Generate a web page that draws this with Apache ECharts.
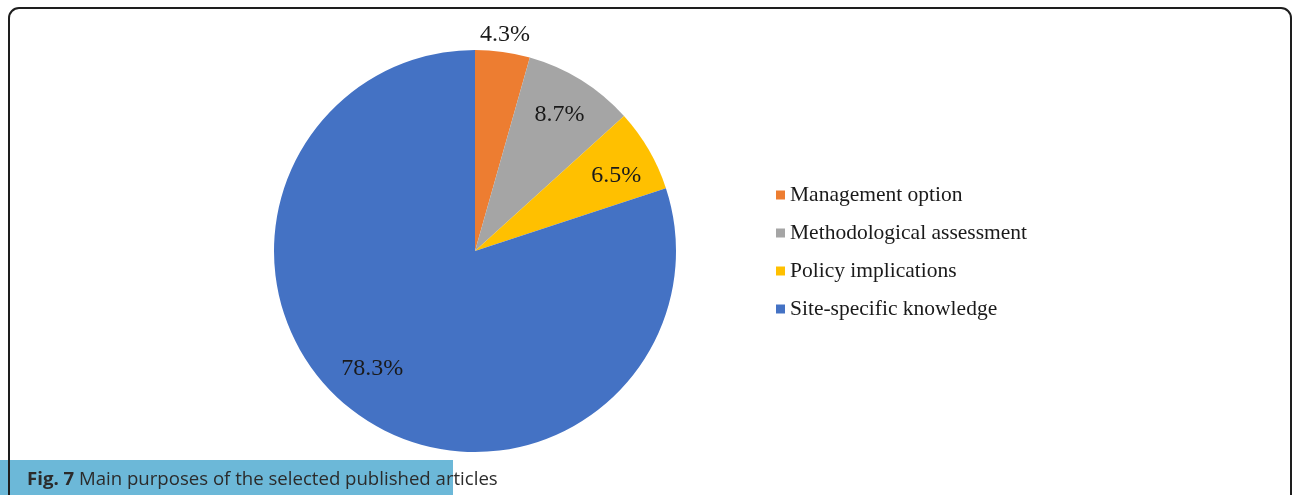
<!DOCTYPE html>
<html>
<head>
<meta charset="utf-8">
<script src="https://cdn.jsdelivr.net/npm/echarts@6/dist/echarts.min.js"></script>
<style>
  html, body { margin: 0; padding: 0; background: #fff; }
  #wrap { position: relative; width: 1292px; height: 495px; overflow: hidden; }
  #chart { position: absolute; left: 0; top: 0; width: 1292px; height: 495px; }
  #frame { position: absolute; left: 8px; top: 7px; width: 1280px; height: 520px;
           border: 2px solid #1e1e1e; border-radius: 11px; pointer-events: none; }
  #capbox { position: absolute; left: 0; top: 460px; width: 453px; height: 35px; background: #6cb8d8; }
  #caption { position: absolute; left: 27px; top: 465px; font-family: "Open Sans", sans-serif;
             font-size: 18.6px; color: #2b2b2b; white-space: nowrap; line-height: 26px; }
  #caption b { font-weight: 700; }
</style>
</head>
<body>
<div id="wrap">
  <div id="capbox"></div>
  <div id="chart"></div>
  <div id="frame"></div>
  <div id="caption"><b>Fig. 7</b> Main purposes of the selected published articles</div>
</div>
<script>
// Data
var categories = ['Management option', 'Methodological assessment', 'Policy implications', 'Site-specific knowledge'];
var percentValues = [4.3, 8.7, 6.5, 78.3];
var sliceColors = ['#ED7D31', '#A5A5A5', '#FFC000', '#4472C4'];

var chart = echarts.init(document.getElementById('chart'), null, { renderer: 'canvas' });

function buildData(showIdx) {
  return categories.map(function (name, i) {
    var lbl = { show: showIdx.indexOf(i) >= 0 };
    if (i === 3) { lbl.offset = [-9, -12]; }
    if (i === 2) { lbl.offset = [3, 5]; }
    return { name: name, value: percentValues[i], label: lbl };
  });
}

var labelFont = {
  fontFamily: '"Liberation Serif", "Times New Roman", serif',
  fontSize: 24,
  color: '#1a1a1a'
};

var option = {
  animation: false,
  color: sliceColors,
  legend: {
    orient: 'vertical',
    left: 776,
    top: 184,
    padding: 0,
    itemWidth: 9,
    itemHeight: 9,
    itemGap: 16,
    icon: 'rect',
    selectedMode: false,
    data: categories,
    textStyle: {
      fontFamily: '"Liberation Serif", "Times New Roman", serif',
      fontSize: 21.5,
      color: '#1a1a1a'
    }
  },
  series: [
    {
      name: 'main',
      type: 'pie',
      center: [475, 251],
      radius: [0, 201],
      startAngle: 90,
      clockwise: true,
      label: { show: false },
      labelLine: { show: false },
      itemStyle: { borderWidth: 0 },
      emphasis: { disabled: true },
      data: categories.map(function (name, i) {
        return { name: name, value: percentValues[i], itemStyle: { color: sliceColors[i] } };
      })
    },
    {
      name: 'labelsInner',
      type: 'pie',
      center: [475, 251],
      radius: [0, 314],
      startAngle: 90,
      silent: true,
      z: 5,
      itemStyle: { color: 'rgba(0,0,0,0)', borderWidth: 0 },
      label: Object.assign({ position: 'inside', formatter: '{c}%' }, labelFont),
      labelLine: { show: false },
      emphasis: { disabled: true },
      data: buildData([1, 2, 3])
    },
    {
      name: 'labelsOuter',
      type: 'pie',
      center: [475, 251],
      radius: [0, 430],
      startAngle: 90,
      silent: true,
      z: 5,
      itemStyle: { color: 'rgba(0,0,0,0)', borderWidth: 0 },
      label: Object.assign({ position: 'inside', formatter: '{c}%' }, labelFont),
      labelLine: { show: false },
      emphasis: { disabled: true },
      data: buildData([0])
    }
  ]
};

chart.setOption(option);
</script>
</body>
</html>
